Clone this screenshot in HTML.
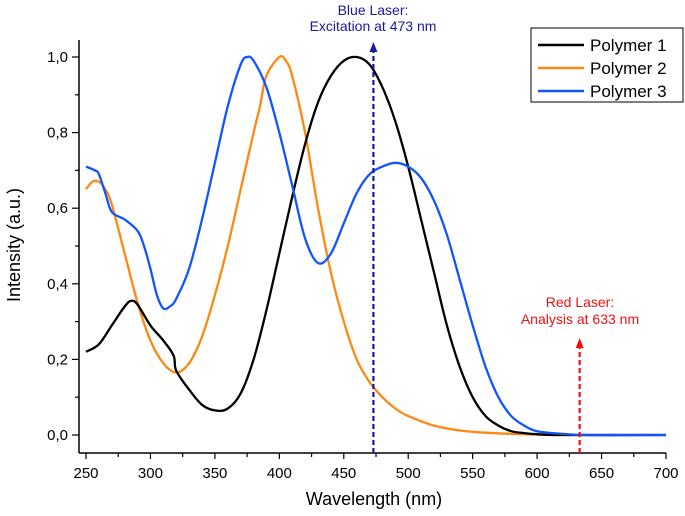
<!DOCTYPE html>
<html><head><meta charset="utf-8"><style>
body{margin:0;background:#fff;font-family:"Liberation Sans",Arial,sans-serif}
svg{display:block}
</style></head><body>
<svg id="chart" width="685" height="516" xmlns="http://www.w3.org/2000/svg">
<g id="axes"></g>
<g id="series"></g>
<g>
<text x="373" y="15" text-anchor="middle" font-size="14" fill="#1a1aa0">Blue Laser:</text>
<text x="373" y="31" text-anchor="middle" font-size="14" fill="#1a1aa0">Excitation at 473 nm</text>
</g>
<g>
<text x="580" y="307" text-anchor="middle" font-size="14" fill="#ee1111">Red Laser:</text>
<text x="580" y="324" text-anchor="middle" font-size="14" fill="#ee1111">Analysis at 633 nm</text>
</g>
<g>
<rect x="531" y="28" width="152" height="74" fill="#fff" stroke="#000" stroke-width="1"/>
<g><line x1="538" y1="45" x2="584" y2="45" stroke="#000" stroke-width="2.5"/><text x="590" y="51" font-size="17">Polymer 1</text></g>
<g><line x1="538" y1="68" x2="584" y2="68" stroke="#ff8811" stroke-width="2.5"/><text x="590" y="74" font-size="17">Polymer 2</text></g>
<g><line x1="538" y1="91" x2="584" y2="91" stroke="#1155ff" stroke-width="2.5"/><text x="590" y="97" font-size="17">Polymer 3</text></g>
</g>
<text x="374" y="505" text-anchor="middle" font-size="18">Wavelength (nm)</text>
<text transform="translate(20,245) rotate(-90)" text-anchor="middle" font-size="18">Intensity (a.u.)</text>
</svg>
<script>
const xTicks=[250,300,350,400,450,500,550,600,650,700];
const yTicks=[0,0.2,0.4,0.6,0.8,1.0];
const yTickLabels=["0,0","0,2","0,4","0,6","0,8","1,0"];
const p1X=[250,260,270,280,285,290,300,310,318,320,330,340,350,360,370,380,390,400,410,420,430,440,450,460,470,480,490,500,510,520,530,540,550,560,570,580,590,600,620,700];
const p1Y=[0.22,0.24,0.29,0.34,0.355,0.345,0.29,0.25,0.21,0.17,0.12,0.08,0.065,0.07,0.11,0.2,0.33,0.48,0.63,0.77,0.88,0.95,0.99,1.0,0.98,0.92,0.83,0.71,0.57,0.43,0.29,0.18,0.1,0.05,0.025,0.01,0.005,0.002,0,0];
const p2X=[250,255,260,265,270,280,290,300,310,320,330,340,350,360,370,380,385,390,400,405,410,420,430,440,450,460,470,480,490,500,520,540,560,580,600,620,700];
const p2Y=[0.65,0.67,0.67,0.65,0.61,0.48,0.35,0.25,0.19,0.165,0.19,0.26,0.37,0.5,0.65,0.8,0.87,0.95,1.0,0.99,0.95,0.8,0.6,0.43,0.3,0.2,0.14,0.1,0.07,0.05,0.025,0.012,0.006,0.003,0.001,0,0];
const p3X=[250,257,260,265,270,280,290,295,300,305,310,315,320,330,340,350,360,370,375,380,390,400,410,420,430,440,450,460,470,480,490,500,510,520,530,540,550,560,570,580,590,600,620,640,700];
const p3Y=[0.71,0.7,0.69,0.64,0.59,0.57,0.54,0.5,0.44,0.37,0.335,0.34,0.36,0.44,0.57,0.72,0.87,0.98,1.0,0.99,0.92,0.8,0.66,0.52,0.455,0.48,0.56,0.64,0.69,0.71,0.72,0.71,0.68,0.62,0.53,0.41,0.29,0.18,0.1,0.05,0.025,0.01,0.003,0,0];
const blueLaser=473, redLaser=633;
const NS="http://www.w3.org/2000/svg";
const xs=v=>86+(v-250)/450*580;
const ys=v=>435-v*378;
function mk(t,a,p){const e=document.createElementNS(NS,t);for(const k in a)e.setAttribute(k,a[k]);p.appendChild(e);return e;}
const ax=document.getElementById('axes');
const yl=mk('line',{x1:79,y1:40,x2:79,y2:453,stroke:'#000','stroke-width':1.5},ax);


const xl=mk('line',{x1:79,y1:453,x2:666,y2:453,stroke:'#000','stroke-width':1.5},ax);


for(let v=250;v<=700;v+=25){const maj=v%50===0;mk('line',{x1:xs(v),y1:453,x2:xs(v),y2:maj?459:457,stroke:'#000','stroke-width':1.2},ax);}
xTicks.forEach(v=>{const t=mk('text',{x:xs(v),y:478,'text-anchor':'middle','font-size':15},ax);t.textContent=v;

});
for(let i=0;i<=10;i++){const v=i/10;mk('line',{x1:79,y1:ys(v),x2:i%2?75:72,y2:ys(v),stroke:'#000','stroke-width':1.2},ax);}
yTicks.forEach((v,i)=>{const t=mk('text',{x:68,y:ys(v)+5,'text-anchor':'end','font-size':15},ax);t.textContent=yTickLabels[i];

});
const sg=document.getElementById('series');
function line(X,Y,c,name){
const P=X.map((x,i)=>[xs(x),ys(Y[i])]);
let d='M'+P[0][0].toFixed(1)+','+P[0][1].toFixed(1);
for(let i=0;i<P.length-1;i++){const p0=P[Math.max(i-1,0)],p1=P[i],p2=P[i+1],p3=P[Math.min(i+2,P.length-1)];
const c1=[p1[0]+(p2[0]-p0[0])/6,p1[1]+(p2[1]-p0[1])/6],c2=[p2[0]-(p3[0]-p1[0])/6,p2[1]-(p3[1]-p1[1])/6];
d+=`C${c1[0].toFixed(1)},${c1[1].toFixed(1)} ${c2[0].toFixed(1)},${c2[1].toFixed(1)} ${p2[0].toFixed(1)},${p2[1].toFixed(1)}`;}
const p=mk('path',{d:d,fill:'none',stroke:c,'stroke-width':2.3,'stroke-linejoin':'round'},sg);

}
line(p2X,p2Y,'#ff8811','polymer-2-line');
line(p1X,p1Y,'#000','polymer-1-line');
line(p3X,p3Y,'#1155ff','polymer-3-line');
function laser(v,top,c,name){const x=xs(v);
const l=mk('line',{x1:x,y1:453,x2:x,y2:top+8,stroke:c,'stroke-width':2.2,'stroke-dasharray':'5,3'},sg);


const a=mk('polygon',{points:`${x-4},${top+10} ${x+4},${top+10} ${x},${top}`,fill:c},sg);

}
laser(blueLaser,42,'#1a1aa0','blue-laser-line');
laser(redLaser,338,'#ee1111','red-laser-line');
</script>
</body></html>
